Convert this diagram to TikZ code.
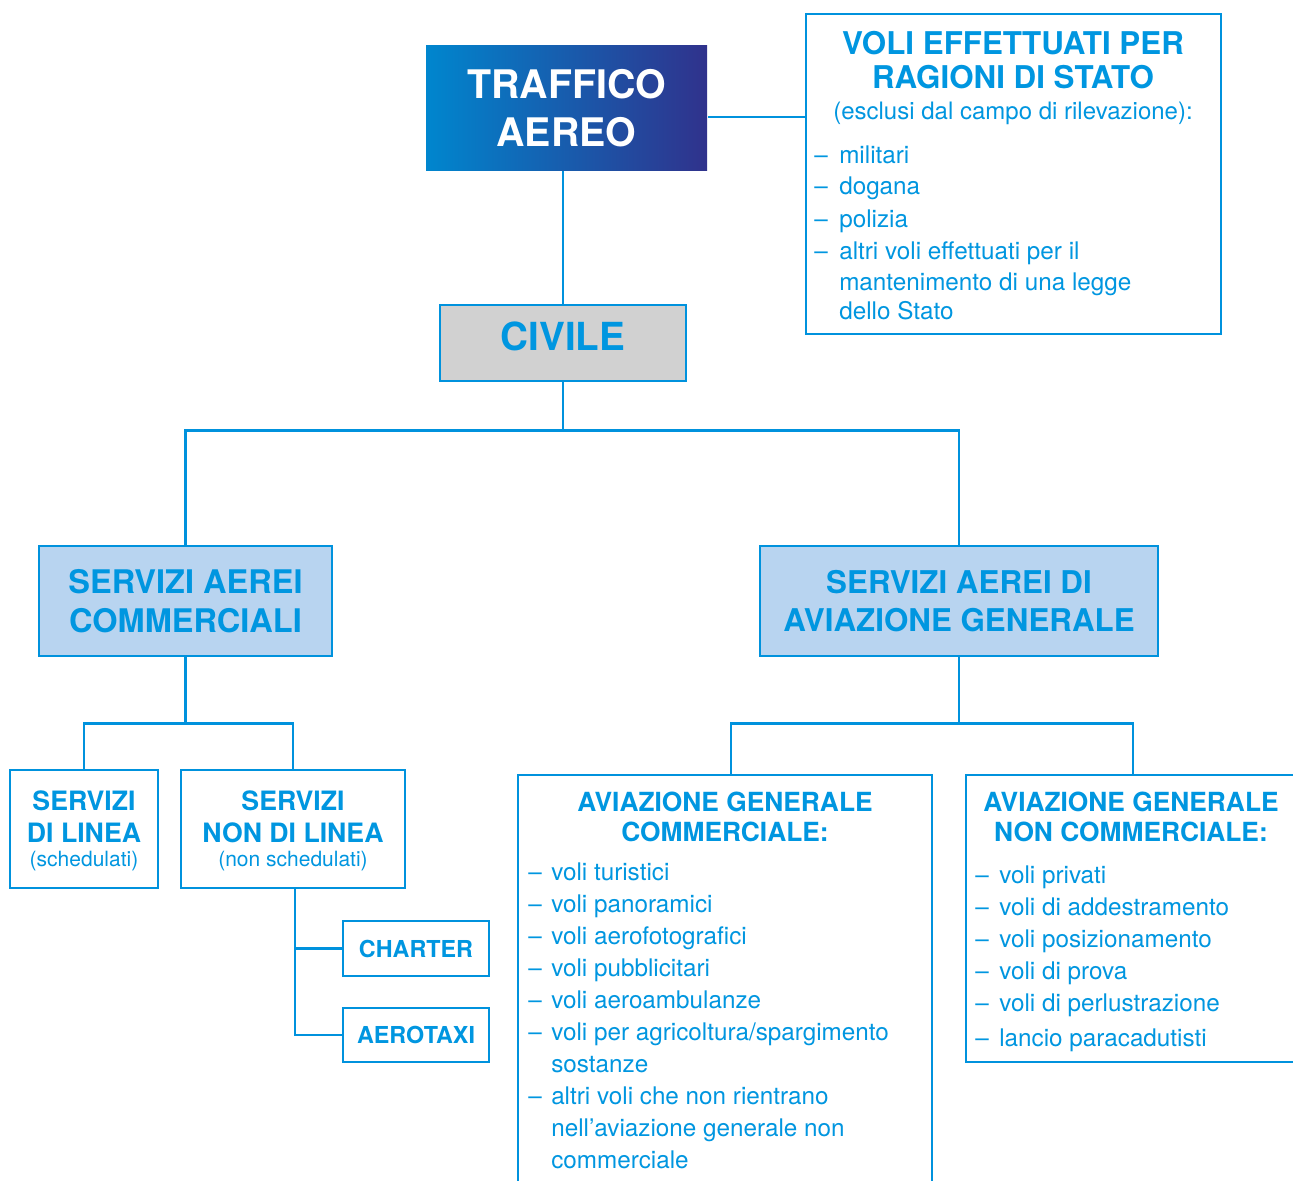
\documentclass[tikz,border=0pt]{standalone}
\usepackage{fontspec}
\setmainfont{TeX Gyre Heros}

\definecolor{bluline}{RGB}{0,146,221}
\definecolor{blutesto}{RGB}{0,150,224}
\definecolor{azzurro}{RGB}{184,212,240}
\definecolor{grigio}{RGB}{209,209,209}
\definecolor{bluchiaro}{RGB}{0,134,206}
\definecolor{blumedio}{RGB}{0,92,168}
\definecolor{blunotte}{RGB}{48,50,140}

\newcommand{\corpo}[2]{\fontsize{#1}{#2}\selectfont}

\tikzset{
  riquadro/.style={draw=bluline, line width=2pt, inner sep=0pt},
  collega/.style={draw=bluline, line width=2pt},
  testo/.style={text=blutesto, inner sep=0pt},
}

\begin{document}
\begin{tikzpicture}[x=0.75pt,y=0.75pt,yscale=-1,xscale=1]
\useasboundingbox (0,0) rectangle (1293,1181);
\clip (0,0) rectangle (1293,1181);

% Boxes
\node[riquadro, draw=none, left color=bluchiaro, middle color=blumedio, right color=blunotte,
  minimum width=210.75pt, minimum height=93pt, text=white, align=center,
  font={\bfseries\corpo{29.5}{36}}] (traffico) at (566.5,108) {TRAFFICO\\AEREO};
\node[riquadro, fill=white, minimum width=311.25pt, minimum height=240pt] (voli) at (1013.5,174) {};
\node[riquadro, fill=grigio, minimum width=184.5pt, minimum height=57pt] (civile) at (563,343) {};
\node[riquadro, fill=azzurro, minimum width=219.75pt, minimum height=82.5pt, text=blutesto, align=center,
  font={\bfseries\corpo{24.4}{29}}] (commerciali) at (185.5,601) {SERVIZI AEREI\\COMMERCIALI};
\node[riquadro, fill=azzurro, minimum width=298.5pt, minimum height=82.5pt, text=blutesto, align=center,
  font={\bfseries\corpo{23.5}{29}}] (generale) at (959,601) {SERVIZI AEREI DI\\AVIAZIONE GENERALE};
\node[riquadro, fill=white, minimum width=111pt, minimum height=88.5pt] (linea) at (84,829) {};
\node[riquadro, fill=white, minimum width=168pt, minimum height=88.5pt] (nonlinea) at (293,829) {};
\node[riquadro, fill=white, minimum width=109.5pt, minimum height=41.25pt, text=blutesto,
  font={\bfseries\corpo{17.5}{21}}] (charter) at (416,948.5) {CHARTER};
\node[riquadro, fill=white, minimum width=109.5pt, minimum height=40.5pt, text=blutesto,
  font={\bfseries\corpo{17.5}{21}}] (aerotaxi) at (416,1035) {AEROTAXI};
\node[riquadro, fill=white, minimum width=310.5pt, minimum height=330pt] (agcomm) at (725,995) {};
\node[riquadro, fill=white, minimum width=250.5pt, minimum height=215.25pt] (agnoncomm) at (1133,918.5) {};

% Connectors
\draw[collega] (traffico.south -| civile.north) -- (civile.north);
\coordinate (giunto) at (707,117);
\draw[collega] (traffico.east |- giunto) -- (voli.west |- giunto);
\draw[collega] (civile.south) -- ++(0,48) coordinate (snodo1) -| (commerciali.north);
\draw[collega] (snodo1) -| (generale.north);
\draw[collega] (commerciali.south) -- ++(0,66) coordinate (snodo2) -| (linea.north);
\draw[collega] (snodo2) -| (nonlinea.north);
\draw[collega] ([xshift=1.5pt]nonlinea.south) |- (charter.west);
\draw[collega] ([xshift=1.5pt]nonlinea.south) |- (aerotaxi.west);
\draw[collega] (generale.south) -- ++(0,66) coordinate (snodo3) -| ([xshift=4.5pt]agcomm.north);
\draw[collega] (snodo3) -| (agnoncomm.north);

% Texts
\node[testo, anchor=base, font={\bfseries\corpo{23.5}{25.5}}] (volititolo) at (1013,55)
  {\begin{tabular}[t]{@{}c@{}}VOLI EFFETTUATI PER\\RAGIONI DI STATO\end{tabular}};
\node[testo, anchor=base, font=\corpo{18}{24}] (volinota) at (1013,119) {(esclusi dal campo di rilevazione):};
\node[testo, anchor=base west, font=\corpo{18.2}{24}] (volilista) at (814,163)
  {\begin{tabular}[t]{@{}p{18.75pt}@{}l@{}}
  – & militari\\
  – & dogana\\
  – & polizia\\
  – & altri voli effettuati per il\\
    & mantenimento di una legge\\[-2.25pt]
    & dello Stato
  \end{tabular}};
\node[testo, anchor=base, font={\bfseries\corpo{29}{34}}] (civiletesto) at (563,350) {CIVILE};
\node[testo, anchor=base, font={\bfseries\corpo{20}{24}}] (lineatesto) at (84,810)
  {\begin{tabular}[t]{@{}c@{}}SERVIZI\\DI LINEA\end{tabular}};
\node[testo, anchor=base, font=\corpo{15.75}{19}] (lineanota) at (84,866) {(schedulati)};
\node[testo, anchor=base, font={\bfseries\corpo{20}{24}}] (nonlineatesto) at (293,810)
  {\begin{tabular}[t]{@{}c@{}}SERVIZI\\NON DI LINEA\end{tabular}};
\node[testo, anchor=base, font=\corpo{15.75}{19}] (nonlineanota) at (293,866) {(non schedulati)};
\node[testo, anchor=base, font={\bfseries\corpo{19.75}{22.5}}] (agcommtitolo) at (725,811)
  {\begin{tabular}[t]{@{}c@{}}AVIAZIONE GENERALE\\COMMERCIALE:\end{tabular}};
\node[testo, anchor=base west, font=\corpo{18.2}{24}] (agcommlista) at (528,880)
  {\begin{tabular}[t]{@{}p{17.25pt}@{}l@{}}
  – & voli turistici\\
  – & voli panoramici\\
  – & voli aerofotografici\\
  – & voli pubblicitari\\
  – & voli aeroambulanze\\
  – & voli per agricoltura/spargimento\\
    & sostanze\\
  – & altri voli che non rientrano\\
    & nell’aviazione generale non\\
    & commerciale
  \end{tabular}};
\node[testo, anchor=base, font={\bfseries\corpo{19.75}{22.5}}] (agnoncommtitolo) at (1131,811)
  {\begin{tabular}[t]{@{}c@{}}AVIAZIONE GENERALE\\NON COMMERCIALE:\end{tabular}};
\node[testo, anchor=base west, font=\corpo{18.2}{24}] (agnoncommlista) at (975,883)
  {\begin{tabular}[t]{@{}p{18pt}@{}l@{}}
  – & voli privati\\
  – & voli di addestramento\\
  – & voli posizionamento\\
  – & voli di prova\\
  – & voli di perlustrazione\\[2.25pt]
  – & lancio paracadutisti
  \end{tabular}};

\end{tikzpicture}
\end{document}
